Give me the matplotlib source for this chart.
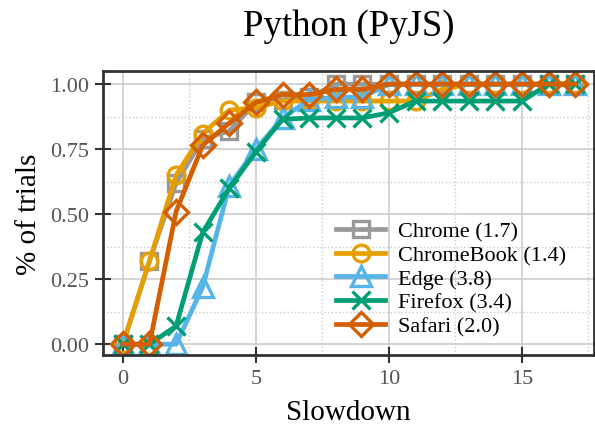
import matplotlib
matplotlib.use("Agg")
import matplotlib.pyplot as plt
from matplotlib.ticker import MultipleLocator

plt.rcParams['font.family'] = ['Liberation Serif', 'DejaVu Serif']
plt.rcParams['mathtext.fontset'] = 'stix'

slowdown = list(range(18))
labels = ["Chrome (1.7)", "ChromeBook (1.4)", "Edge (3.8)", "Firefox (3.4)", "Safari (2.0)"]
chrome = [0.0, 0.32, 0.62, 0.79, 0.82, 0.93, 0.94, 0.95, 1.0, 1.0, 1.0, 1.0, 1.0, 1.0, 1.0, 1.0, 1.0, 1.0]
chromebook = [0.0, 0.32, 0.65, 0.81, 0.90, 0.91, 0.935, 0.935, 0.935, 0.935, 0.935, 0.935, 0.98, 1.0, 1.0, 1.0, 1.0, 1.0]
edge = [0.0, 0.0, 0.0, 0.22, 0.61, 0.75, 0.87, 0.94, 0.95, 0.95, 1.0, 1.0, 1.0, 1.0, 1.0, 1.0, 1.0, 1.0]
firefox = [0.0, 0.0, 0.07, 0.43, 0.60, 0.74, 0.865, 0.87, 0.87, 0.87, 0.89, 0.935, 0.935, 0.935, 0.935, 0.935, 1.0, 1.0]
safari = [0.0, 0.0, 0.51, 0.765, 0.85, 0.93, 0.96, 0.96, 0.98, 0.98, 1.0, 1.0, 1.0, 1.0, 1.0, 1.0, 1.0, 1.0]

series = [chrome, chromebook, edge, firefox, safari]
colors = ["#999999", "#E69F00", "#56B4E9", "#009E73", "#D55E00"]
markers = ["s", "o", "^", "x", "D"]
msizes = [12, 12, 14, 12.5, 12]

fig = plt.figure(figsize=(5.95, 4.27), dpi=100)
ax = fig.add_axes([0.173, 0.166, 0.825, 0.665])

for ys, lab, c, m, ms in zip(series, labels, colors, markers, msizes):
    ax.plot(slowdown, ys, color=c, marker=m, markersize=ms, markerfacecolor='none',
            markeredgecolor=c, markeredgewidth=2.4, linewidth=3.4, label=lab)

ax.set_xlim(-0.75, 17.7)
ax.set_ylim(-0.042, 1.05)
ax.xaxis.set_major_locator(MultipleLocator(5))
ax.xaxis.set_minor_locator(MultipleLocator(2.5))
ax.yaxis.set_minor_locator(MultipleLocator(0.125))
ax.set_yticks([0, 0.25, 0.5, 0.75, 1.0])
ax.set_yticklabels(["0.00", "0.25", "0.50", "0.75", "1.00"])

ax.grid(which='major', color='#cccccc', linewidth=1.2, linestyle='-')
ax.grid(which='minor', color='#cccccc', linewidth=1.0, linestyle=':')
ax.set_axisbelow(True)

ax.tick_params(which='major', direction='inout', length=12, width=1.5, color='#333333',
               labelsize=16, labelcolor='#555555', pad=4)
ax.tick_params(which='minor', length=0)
for sp in ax.spines.values():
    sp.set_linewidth(2)
    sp.set_color('#333333')

ax.set_xlabel("Slowdown", fontsize=21, labelpad=8)
ax.set_ylabel("% of trials", fontsize=21, labelpad=6)
ax.set_title("Python (PyJS)", fontsize=26.5, pad=26)

ax.legend(loc='lower right', bbox_to_anchor=(0.985, -0.005), frameon=False, fontsize=16,
          handlelength=2.2, handletextpad=0.6, labelspacing=0.14, borderpad=0.4)

fig.savefig("out.png", dpi=100)
